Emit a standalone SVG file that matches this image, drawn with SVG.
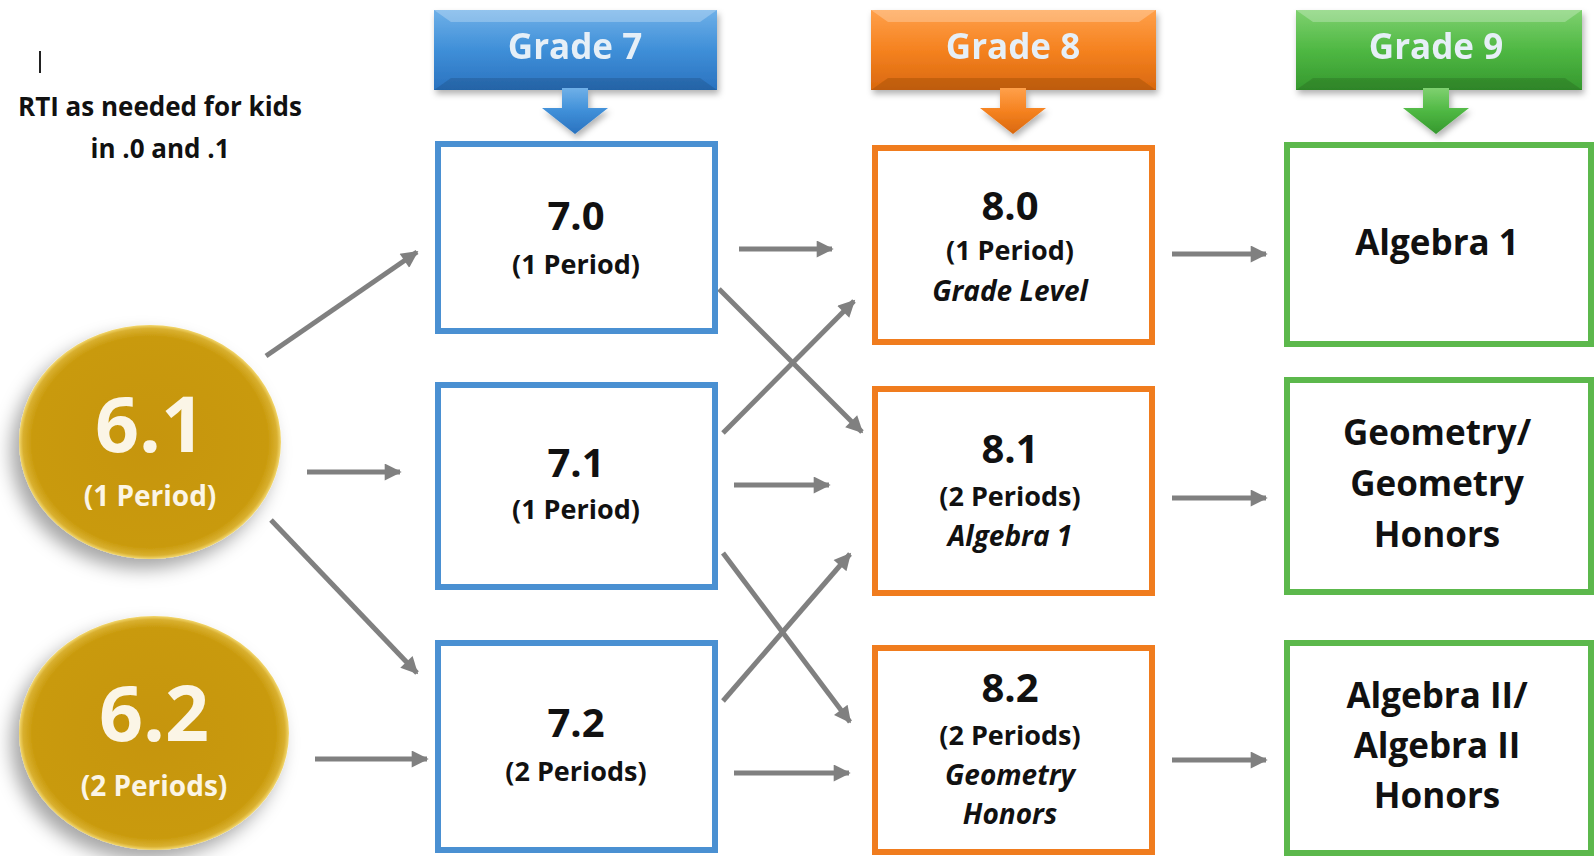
<svg xmlns="http://www.w3.org/2000/svg" width="1594" height="856" viewBox="0 0 1594 856">
<defs>
  <linearGradient id="gBlue" x1="0" y1="0" x2="0" y2="1">
    <stop offset="0" stop-color="#6fb0e8"/><stop offset="0.5" stop-color="#3f8fd8"/><stop offset="1" stop-color="#2a72bf"/>
  </linearGradient>
  <linearGradient id="gOrange" x1="0" y1="0" x2="0" y2="1">
    <stop offset="0" stop-color="#ffa04a"/><stop offset="0.5" stop-color="#f58220"/><stop offset="1" stop-color="#d9680e"/>
  </linearGradient>
  <linearGradient id="gGreen" x1="0" y1="0" x2="0" y2="1">
    <stop offset="0" stop-color="#7fd170"/><stop offset="0.5" stop-color="#4fb843"/><stop offset="1" stop-color="#35982e"/>
  </linearGradient>
  <radialGradient id="gGold" cx="0.5" cy="0.5" r="0.5">
    <stop offset="0" stop-color="#c69509"/><stop offset="0.9" stop-color="#c99a0c"/><stop offset="0.97" stop-color="#d9b030"/><stop offset="1" stop-color="#f3d870"/>
  </radialGradient>
  <filter id="shadow" x="-30%" y="-30%" width="160%" height="160%">
    <feDropShadow dx="-8" dy="10" stdDeviation="9" flood-color="#000" flood-opacity="0.35"/>
  </filter>
  <filter id="hshadow" x="-10%" y="-20%" width="120%" height="150%">
    <feDropShadow dx="2" dy="4" stdDeviation="3" flood-color="#000" flood-opacity="0.3"/>
  </filter>
  <marker id="ah" viewBox="0 0 10 10" refX="9" refY="5" markerWidth="4" markerHeight="3.4" orient="auto" markerUnits="strokeWidth">
    <path d="M0,0 L10,5 L0,10 z" fill="#808080"/>
  </marker>
  <style>
    .t{font-family:"Open Sans",Lato,"Liberation Sans",sans-serif;font-weight:bold;text-anchor:middle;fill:#111}
    .big{font-size:40px}
    .sub{font-size:27px}
    .it{font-style:italic;font-size:28px}
    .g9{font-size:35px}
    .hd{font-family:"Open Sans",Lato,"Liberation Sans",sans-serif;font-weight:bold;text-anchor:middle;font-size:35px;fill:#e6eff7}
    .wt{font-family:"Open Sans",Lato,"Liberation Sans",sans-serif;font-weight:bold;text-anchor:middle;fill:#fbf5e6}
    .bb{fill:#fff;stroke:#4a90d2;stroke-width:6}
    .ob{fill:#fff;stroke:#f07c1e;stroke-width:6}
    .gb{fill:#fff;stroke:#5cb84c;stroke-width:6}
    .c{stroke:#808080;stroke-width:5;fill:none;marker-end:url(#ah)}
  </style>
</defs>
<rect width="1594" height="856" fill="#fff"/>

<g id="note">
  <line x1="40" y1="51" x2="40" y2="73" stroke="#222" stroke-width="2"/>
  <text class="t" x="160" y="116" style="font-size:26px">RTI as needed for kids</text>
  <text class="t" x="160" y="158" style="font-size:26px">in .0 and .1</text>
</g>

<g id="header7" filter="url(#hshadow)">
  <rect x="434" y="10" width="283" height="80" fill="url(#gBlue)"/>
  <polygon points="434,10 717,10 700,22 451,22" fill="#fff" opacity="0.25"/>
  <polygon points="434,90 717,90 700,78 451,78" fill="#000" opacity="0.12"/>
  <path d="M562,88 h26 v20 h20 l-33,26 l-33,-26 h20 z" fill="url(#gBlue)"/>
  <text class="hd" x="575" y="59">Grade 7</text>
</g>
<g id="header8" filter="url(#hshadow)">
  <rect x="871" y="10" width="285" height="80" fill="url(#gOrange)"/>
  <polygon points="871,10 1156,10 1139,22 888,22" fill="#fff" opacity="0.25"/>
  <polygon points="871,90 1156,90 1139,78 888,78" fill="#000" opacity="0.12"/>
  <path d="M1000,88 h26 v20 h20 l-33,26 l-33,-26 h20 z" fill="url(#gOrange)"/>
  <text class="hd" x="1013" y="59">Grade 8</text>
</g>
<g id="header9" filter="url(#hshadow)">
  <rect x="1296" y="10" width="286" height="80" fill="url(#gGreen)"/>
  <polygon points="1296,10 1582,10 1565,22 1313,22" fill="#fff" opacity="0.25"/>
  <polygon points="1296,90 1582,90 1565,78 1313,78" fill="#000" opacity="0.12"/>
  <path d="M1423,88 h26 v20 h20 l-33,26 l-33,-26 h20 z" fill="url(#gGreen)"/>
  <text class="hd" x="1436" y="59">Grade 9</text>
</g>

<g id="connectors">
  <line class="c" x1="266" y1="356" x2="417" y2="252"/>
  <line class="c" x1="307" y1="472" x2="400" y2="472"/>
  <line class="c" x1="271" y1="520" x2="417" y2="673"/>
  <line class="c" x1="315" y1="759" x2="427" y2="759"/>
  <line class="c" x1="739" y1="249" x2="832" y2="249"/>
  <line class="c" x1="719" y1="289" x2="862" y2="432"/>
  <line class="c" x1="723" y1="433" x2="854" y2="301"/>
  <line class="c" x1="734" y1="485" x2="829" y2="485"/>
  <line class="c" x1="723" y1="553" x2="850" y2="722"/>
  <line class="c" x1="723" y1="701" x2="850" y2="554"/>
  <line class="c" x1="734" y1="773" x2="849" y2="773"/>
  <line class="c" x1="1172" y1="254" x2="1266" y2="254"/>
  <line class="c" x1="1172" y1="498" x2="1266" y2="498"/>
  <line class="c" x1="1172" y1="760" x2="1266" y2="760"/>
</g>

<g id="n61">
  <ellipse cx="150" cy="442" rx="131" ry="117" fill="url(#gGold)" filter="url(#shadow)"/>
  <text class="wt" x="150" y="452" style="font-size:77px">6.1</text>
  <text class="wt" x="150" y="506" style="font-size:28px">(1 Period)</text>
</g>
<g id="n62">
  <ellipse cx="154" cy="733" rx="135" ry="117" fill="url(#gGold)" filter="url(#shadow)"/>
  <text class="wt" x="154" y="741" style="font-size:77px">6.2</text>
  <text class="wt" x="154" y="796" style="font-size:28px">(2 Periods)</text>
</g>

<g id="n70">
  <rect class="bb" x="438" y="144" width="277" height="187"/>
  <text class="t big" x="576" y="230">7.0</text>
  <text class="t sub" x="576" y="274">(1 Period)</text>
</g>
<g id="n71">
  <rect class="bb" x="438" y="385" width="277" height="202"/>
  <text class="t big" x="576" y="477">7.1</text>
  <text class="t sub" x="576" y="519">(1 Period)</text>
</g>
<g id="n72">
  <rect class="bb" x="438" y="643" width="277" height="207"/>
  <text class="t big" x="576" y="737">7.2</text>
  <text class="t sub" x="576" y="781">(2 Periods)</text>
</g>

<g id="n80">
  <rect class="ob" x="875" y="148" width="277" height="194"/>
  <text class="t big" x="1010" y="220">8.0</text>
  <text class="t sub" x="1010" y="260">(1 Period)</text>
  <text class="t it" x="1010" y="301">Grade Level</text>
</g>
<g id="n81">
  <rect class="ob" x="875" y="389" width="277" height="204"/>
  <text class="t big" x="1010" y="463">8.1</text>
  <text class="t sub" x="1010" y="506">(2 Periods)</text>
  <text class="t it" x="1010" y="546">Algebra 1</text>
</g>
<g id="n82">
  <rect class="ob" x="875" y="648" width="277" height="204"/>
  <text class="t big" x="1010" y="702">8.2</text>
  <text class="t sub" x="1010" y="745">(2 Periods)</text>
  <text class="t it" x="1010" y="785">Geometry</text>
  <text class="t it" x="1010" y="824">Honors</text>
</g>

<g id="n9a">
  <rect class="gb" x="1287" y="145" width="304" height="199"/>
  <text class="t g9" x="1437" y="255">Algebra 1</text>
</g>
<g id="n9b">
  <rect class="gb" x="1287" y="380" width="304" height="212"/>
  <text class="t g9" x="1437" y="445">Geometry/</text>
  <text class="t g9" x="1437" y="496">Geometry</text>
  <text class="t g9" x="1437" y="547">Honors</text>
</g>
<g id="n9c">
  <rect class="gb" x="1287" y="643" width="304" height="210"/>
  <text class="t g9" x="1437" y="708">Algebra II/</text>
  <text class="t g9" x="1437" y="758">Algebra II</text>
  <text class="t g9" x="1437" y="808">Honors</text>
</g>
</svg>
